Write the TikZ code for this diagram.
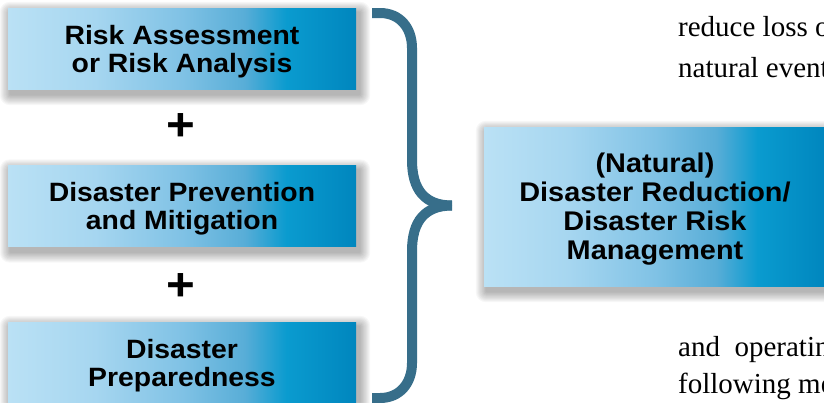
\documentclass[tikz,border=0pt]{standalone}
\usepackage{fontspec}
\setmainfont{Liberation Serif}
\newfontfamily\boxfont[FakeStretch=1.07]{Liberation Sans}
\usetikzlibrary{backgrounds}
\definecolor{g0}{HTML}{BAE1F5}
\definecolor{g1}{HTML}{A6D6F0}
\definecolor{g2}{HTML}{80C2E5}
\definecolor{g3}{HTML}{58ADD7}
\definecolor{g4}{HTML}{0A9BCF}
\definecolor{g5}{HTML}{0086BE}
\definecolor{bracecol}{HTML}{376E8A}
\pgfdeclarehorizontalshading{boxgrad}{100bp}{color(0bp)=(g0); color(25bp)=(g0); color(37.5bp)=(g1); color(50bp)=(g2); color(59bp)=(g3); color(65bp)=(g4); color(75bp)=(g5); color(100bp)=(g5)}
\begin{document}
\begin{tikzpicture}[x=1pt,y=-1pt,
  gradbox/.style={shade, shading=boxgrad, draw=none, inner sep=0pt, align=center, text depth=0pt},
  sidebox/.style={gradbox, minimum width=348pt, minimum height=81pt,
    font=\boxfont\bfseries\fontsize{26.5}{28}\selectfont},
  mainbox/.style={gradbox, minimum width=342pt, minimum height=159pt,
    font=\boxfont\bfseries\fontsize{27}{29}\selectfont},
  plussign/.style={inner sep=0pt, font=\boxfont\bfseries\fontsize{46}{46}\selectfont},
  bodytext/.style={anchor=base west, inner sep=0pt, font=\fontsize{29}{29}\selectfont},
  bracestroke/.style={draw=bracecol, line width=10pt},
  shadowlayer/.style={fill=black, opacity=0.03}]
\useasboundingbox (0,0) rectangle (824,402);
\clip (0,0) rectangle (824,402);

\node[sidebox] (ra) at (182,48.5) {Risk Assessment\\or Risk Analysis};
\node[plussign] (p1) at (181,127) {+};
\node[sidebox] (dp) at (182,206) {Disaster Prevention\\and Mitigation};
\node[plussign] (p2) at (181,287) {+};
\node[sidebox] (pr) at (182,362.5) {Disaster\\Preparedness};

\node[mainbox] (dr) at (655,206.5) {(Natural)\\Disaster Reduction/\\Disaster Risk\\Management};

\begin{pgfonlayer}{background}
  \fill[white] (0,0) rectangle (824,402);
  \foreach \n in {ra,dp,pr,dr}{
    \foreach \i in {1,...,10}{
      \fill[shadowlayer, rounded corners=\i pt]
        ([xshift={3pt-\i*1.1pt},yshift={-5pt+\i*1.1pt}]\n.north west) rectangle
        ([xshift={3pt+\i*1.1pt},yshift={-5pt-\i*1.1pt}]\n.south east);
    }
  }
\end{pgfonlayer}

\coordinate (btop) at (372,13);
\coordinate (bbot) at (372,398);
\coordinate (btip) at (452,205.5);
\draw[bracestroke] (btop) -- (380,13) .. controls (400,13) and (412,28) .. (412,48)
  -- (412,160) .. controls (412,190) and (425,205.5) .. (btip);
\draw[bracestroke] (bbot) -- (380,398) .. controls (400,398) and (412,383) .. (412,363)
  -- (412,251) .. controls (412,221) and (425,205.5) .. (btip);

\node[bodytext] (t1) at (678,36) {reduce loss o};
\node[bodytext] (t2) at (678,77) {natural event};
\node[bodytext] (t3) at (678,356) {and\ \ operatin};
\node[bodytext] (t4) at (678,393) {following me};
\end{tikzpicture}
\end{document}
